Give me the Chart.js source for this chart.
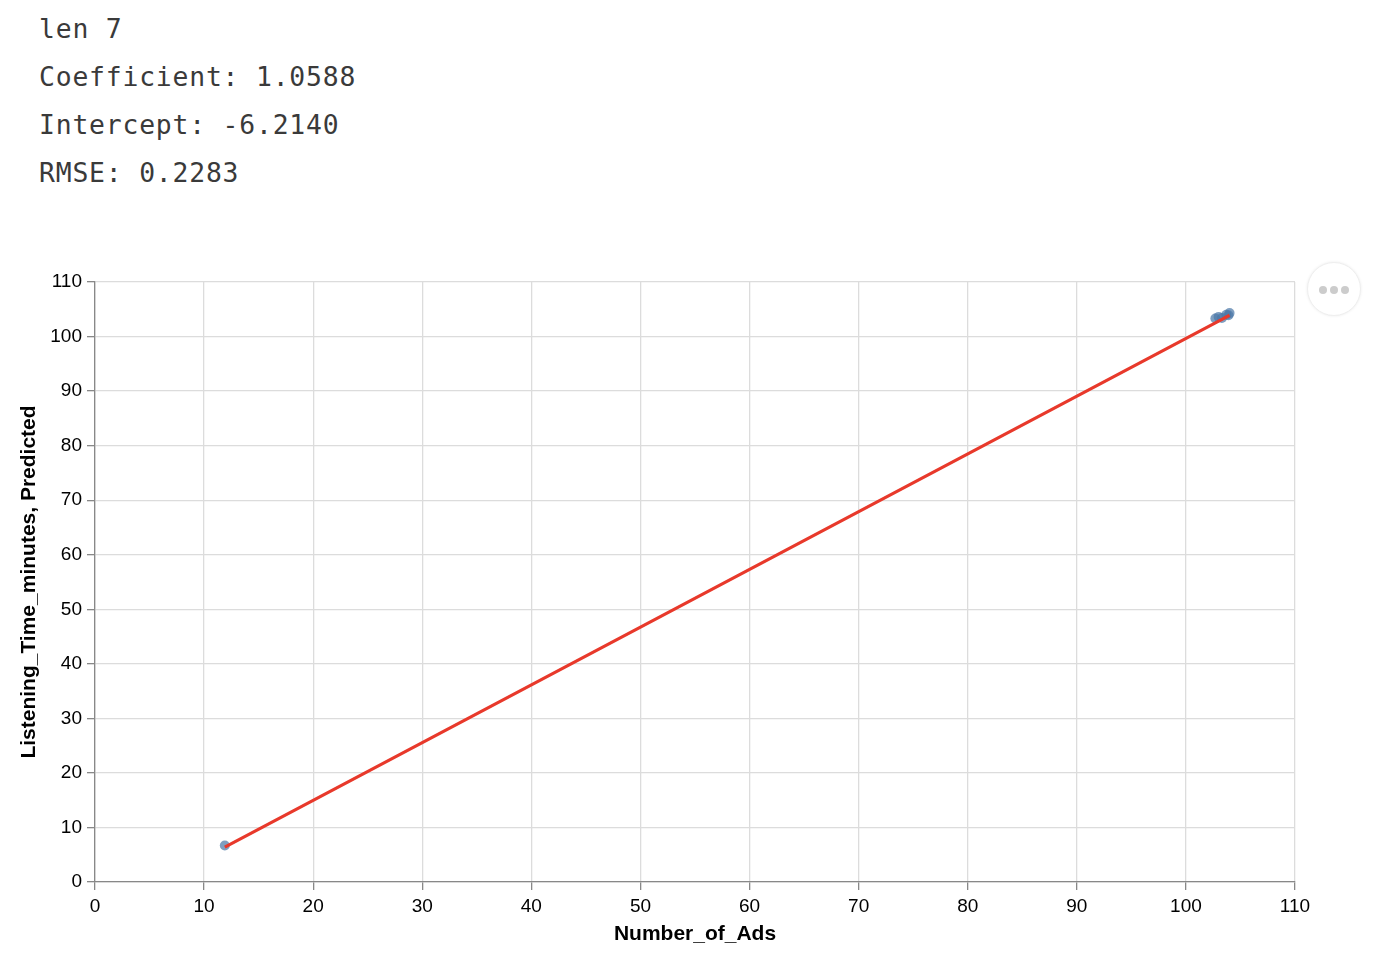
<!DOCTYPE html>
<html>
<head>
<meta charset="utf-8">
<script src="https://cdn.jsdelivr.net/npm/chart.js@4"></script>
<style>
  html, body { margin: 0; padding: 0; background: #fff; overflow: hidden; }
  #stats { position: absolute; left: 39px; top: 5px; margin: 0; font-family: "DejaVu Sans Mono", "Liberation Mono", monospace; font-size: 26.4px; letter-spacing: 0.8px; line-height: 48px; color: #3a3a3a; }
  #wrap { position: absolute; left: 0; top: 250px; width: 1384px; height: 714px; }
  #actions { position: absolute; left: 1307px; top: 262px; width: 54px; height: 54px; border-radius: 50%; border: 1px solid #eee; box-sizing: border-box; box-shadow: 0 0 3px rgba(0,0,0,0.08); background: #fff; }
  #actions span { position: absolute; top: 23px; width: 8px; height: 8px; border-radius: 50%; background: #ccc; }
</style>
</head>
<body>
<pre id="stats">len 7
Coefficient: 1.0588
Intercept: -6.2140
RMSE: 0.2283</pre>
<div id="wrap"><canvas id="chart"></canvas></div>
<div id="actions"><span style="left:11px"></span><span style="left:22px"></span><span style="left:33px"></span></div>
<script>
// observed points
var adsX = [11.9, 102.7, 103.0, 103.3, 103.7, 103.9, 104.0];
var listenY = [6.7, 103.3, 103.6, 103.4, 104.0, 103.9, 104.3];
// model predictions at the same x
var predictedY = [6.39, 102.52, 102.84, 103.16, 103.58, 103.79, 103.90];
var axisTicks = [0, 10, 20, 30, 40, 50, 60, 70, 80, 90, 100, 110];

function pairs(xs, ys) {
    return xs.map(function (x, i) { return { x: x, y: ys[i] }; });
}

var tickFont = { family: 'Liberation Sans, Arial, sans-serif', size: 19 };
var titleFont = { family: 'Liberation Sans, Arial, sans-serif', size: 21, weight: 'bold' };

function axis(title, min, max, pad, fit) {
    return {
        type: 'linear', min: min, max: max,
        afterBuildTicks: function (s) { s.ticks = axisTicks.map(function (v) { return { value: v }; }); },
        afterFit: fit,
        grid: { color: '#dcdcdc', lineWidth: 1.3, tickColor: '#888', tickLength: 8 },
        border: { color: '#888', width: 1.3 },
        ticks: { color: '#000', font: tickFont, padding: 5 },
        title: { display: true, text: title, color: '#000', font: titleFont, padding: pad }
    };
}

new Chart(document.getElementById('chart'), {
    type: 'scatter',
    data: {
        datasets: [{
            label: 'Predicted',
            type: 'line',
            data: pairs(adsX, predictedY),
            borderColor: '#e8392b',
            borderWidth: 3.2,
            pointRadius: 0,
            fill: false,
            order: 0
        }, {
            label: 'Listening_Time_minutes',
            data: pairs(adsX, listenY),
            backgroundColor: 'rgba(76, 120, 168, 0.72)',
            borderWidth: 0,
            pointRadius: 5,
            order: 1
        }]
    },
    options: {
        responsive: true, maintainAspectRatio: false, animation: false,
        layout: { padding: { top: 32, right: 89, bottom: 0, left: 0 } },
        plugins: { legend: { display: false }, tooltip: { enabled: false } },
        scales: {
            x: axis('Number_of_Ads', 0, 110, { top: 0, bottom: 17.4 }, function (s) { s.height = 82; }),
            y: axis('Listening_Time_minutes, Predicted', 0, 110, { top: 16.4, bottom: 0 }, function (s) { s.width = 95; })
        }
    }
});
</script>
</body>
</html>
